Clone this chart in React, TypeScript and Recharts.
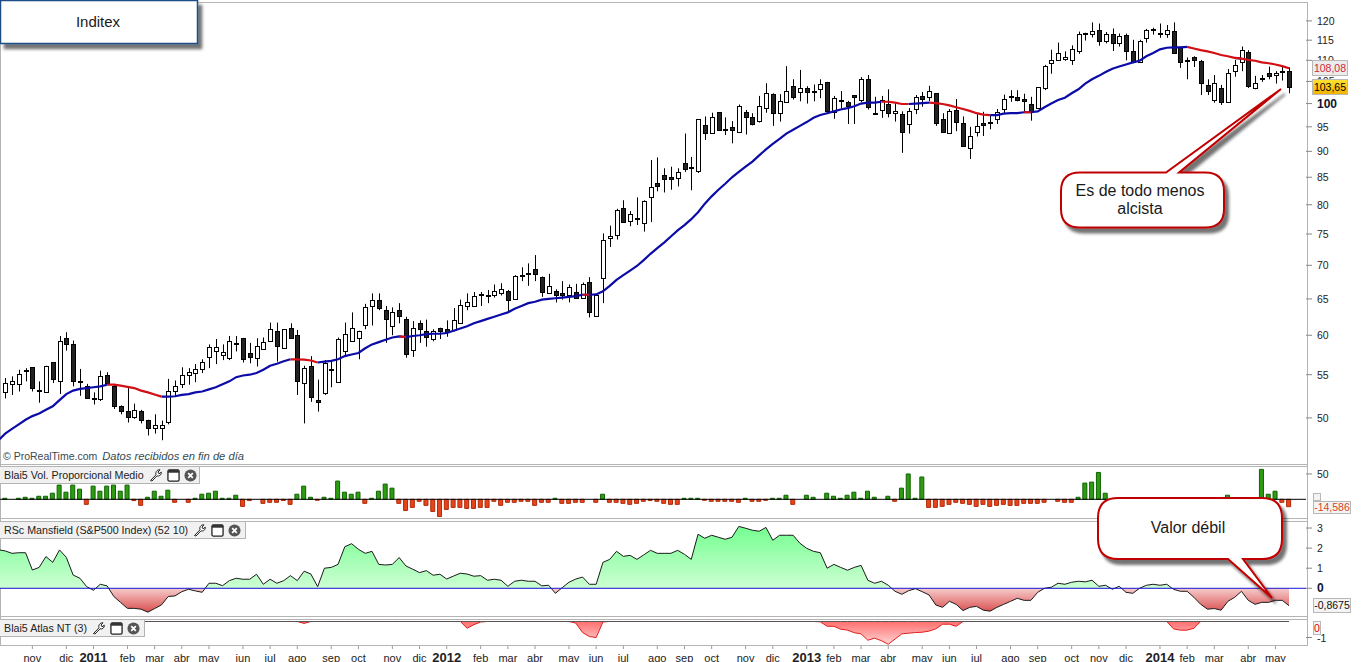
// App.tsx - Inditex weekly candles with volume, Mansfield RS and Atlas panels
import React from 'react';
import {
  ComposedChart, Bar, Line, Area, XAxis, YAxis, ReferenceLine, Cell,
} from 'recharts';

const opens = [
  52.9,53.9,53.9,55.6,55.9,53.2,52.9,56.5,54.2,59.7,
  58.8,54.3,53.6,52.3,52.1,55.0,53.6,51.3,50.8,50.1,
  50.8,49.8,48.9,48.9,49.6,53.1,53.9,55.0,55.2,55.7,
  57.2,57.9,57.5,57.1,59.0,59.6,57.7,57.1,58.2,59.2,
  60.5,58.3,60.9,60.0,54.0,56.1,52.0,52.8,55.7,54.1,
  57.9,59.3,59.7,61.4,64.0,64.9,63.4,61.2,63.5,62.2,
  58.1,61.6,60.6,59.5,61.0,60.8,60.7,61.7,64.0,64.0,
  65.7,65.5,65.5,65.9,66.2,65.0,68.5,68.8,69.4,68.2,
  65.8,66.2,65.9,65.5,66.0,65.1,67.4,62.6,68.0,74.3,
  74.8,79.5,77.2,77.7,76.9,81.3,83.9,85.4,85.1,84.8,
  87.7,86.9,86.2,95.3,93.8,98.1,94.6,94.9,93.9,98.2,
  97.0,96.3,99.1,102.1,97.9,100.3,103.9,102.6,103.4,102.7,
  103.2,104.9,98.1,100.9,100.3,101.9,100.7,105.5,98.0,98.6,
  100.0,97.9,97.7,95.5,98.9,101.7,101.5,102.3,96.6,93.7,
  98.6,95.7,90.7,93.9,95.7,96.1,96.6,98.9,101.6,101.5,
  101.1,99.9,99.1,103.4,109.3,110.2,110.3,110.2,112.4,116.8,
  116.6,117.6,114.9,116.7,114.4,116.4,112.2,109.7,115.5,117.9,
  116.9,116.7,117.4,113.4,109.9,110.8,109.8,104.2,100.8,103.4,
  100.4,107.4,109.6,112.0,103.4,105.9,106.9,106.4,107.3,107.5,
];
const closes = [
  54.0,54.2,55.1,55.4,53.4,53.0,56.1,54.5,59.3,58.8,
  54.3,54.2,52.3,52.2,54.8,54.0,51.3,50.8,50.1,50.9,
  49.8,48.9,49.2,49.2,53.1,53.7,55.0,55.3,55.7,56.6,
  58.4,58.4,57.8,59.2,58.9,56.9,57.2,58.6,59.1,60.8,
  58.6,60.8,59.7,54.2,55.8,52.4,51.8,56.4,55.6,59.5,
  60.2,61.0,60.6,63.8,64.9,63.7,62.2,63.2,62.6,57.6,
  61.0,60.8,59.8,60.6,60.6,60.4,62.0,64.2,64.5,65.4,
  65.5,65.4,66.2,66.4,64.8,68.3,68.4,68.6,68.7,66.0,
  66.9,65.5,65.5,66.7,65.2,67.2,63.2,65.6,74.0,74.7,
  79.1,77.1,78.4,77.6,80.7,83.2,83.3,84.6,84.6,85.9,
  86.5,86.8,96.6,93.8,97.0,94.4,94.4,94.4,99.4,97.0,
  95.6,99.4,102.3,97.9,100.5,102.7,101.4,103.5,102.6,102.6,
  104.4,98.3,101.2,100.6,99.4,101.5,105.5,99.3,97.9,100.9,
  98.0,98.4,93.9,98.3,101.5,101.1,102.7,95.9,93.9,98.3,
  96.0,91.1,93.1,95.1,95.3,96.0,98.1,101.0,101.4,100.9,
  100.5,98.2,103.7,108.7,110.2,111.9,110.8,112.7,116.7,116.7,
  117.4,114.9,116.6,114.2,116.0,112.3,109.7,114.9,117.5,117.6,
  116.8,117.5,111.9,109.6,110.2,110.0,104.7,102.9,104.6,100.4,
  106.9,108.9,112.5,104.0,104.7,105.7,106.3,106.9,107.5,103.65,
];
const highs = [
  54.6,54.8,55.6,55.8,55.9,54.2,56.1,56.5,59.9,60.4,
  59.3,55.7,53.9,52.9,55.5,55.3,53.9,51.4,53.4,51.6,
  50.9,49.8,50.4,49.7,54.5,54.3,55.9,55.8,56.3,56.9,
  58.8,59.5,58.8,59.9,59.9,59.6,59.0,59.6,59.7,61.7,
  61.7,60.8,61.6,60.7,56.1,57.3,54.4,56.8,56.8,59.7,
  61.7,63.1,60.6,64.3,65.8,65.8,64.0,63.8,64.4,62.5,
  61.9,62.0,62.1,60.8,61.0,62.0,63.7,64.9,65.8,66.0,
  66.0,66.3,67.1,67.3,66.3,68.5,69.7,70.3,71.6,68.3,
  68.7,66.4,67.6,67.1,67.2,67.4,68.2,65.6,75.1,76.4,
  79.3,80.8,78.9,81.3,80.8,88.3,88.8,86.7,87.0,86.7,
  93.6,88.9,96.6,97.2,98.0,98.1,97.0,96.2,99.8,98.6,
  97.9,101.7,104.6,102.3,102.1,108.6,105.5,107.7,103.9,104.3,
  105.5,104.9,101.7,102.8,100.6,101.9,106.0,106.5,101.5,101.7,
  103.2,100.3,98.3,99.0,101.9,102.6,104.0,102.3,97.9,98.8,
  101.0,97.2,95.0,97.7,98.2,97.3,98.8,102.0,103.0,103.0,
  102.2,101.5,103.7,108.9,112.6,114.4,112.2,113.7,117.2,116.9,
  119.6,119.3,117.1,118.0,116.7,116.7,115.1,115.1,117.9,118.2,
  119.3,118.9,119.6,113.4,110.7,111.0,110.1,105.5,106.5,104.2,
  107.9,110.1,113.4,112.5,106.3,106.5,108.5,107.4,108.8,108.3,
];
const lows = [
  52.2,52.6,53.0,54.2,53.0,51.7,52.9,54.0,52.7,58.0,
  53.6,52.5,52.3,51.5,51.9,53.9,51.0,50.4,49.5,49.9,
  49.4,48.1,48.3,47.6,49.3,52.4,53.4,53.8,54.1,55.2,
  55.8,56.3,56.8,56.8,57.9,56.5,56.4,56.0,58.2,59.2,
  56.6,58.3,59.7,52.6,49.4,51.8,50.7,52.6,53.5,54.0,
  57.3,59.2,56.9,60.8,61.3,63.4,59.0,60.0,61.6,57.1,
  57.2,59.0,58.5,59.2,59.5,59.8,60.5,61.5,63.4,63.9,
  64.0,64.4,65.2,65.5,63.2,64.9,67.6,66.9,67.6,65.3,
  65.7,64.5,64.9,64.5,65.1,65.1,62.4,62.5,64.4,72.9,
  74.1,77.0,76.3,76.5,75.4,77.0,82.4,82.2,82.7,83.3,
  86.0,82.6,85.8,92.3,93.6,94.2,93.3,91.6,93.7,93.4,
  95.3,95.9,98.0,95.2,96.1,100.3,100.9,100.5,100.0,100.5,
  101.2,97.7,96.7,98.9,95.6,95.6,100.3,98.7,97.7,96.9,
  97.0,96.1,89.7,93.6,97.7,99.3,100.5,95.2,93.7,93.6,
  94.1,90.9,88.5,93.0,93.1,94.5,95.6,97.9,100.4,100.5,
  98.2,96.3,99.0,103.0,106.8,110.0,109.9,108.9,111.6,114.9,
  115.7,113.6,114.2,112.3,113.4,110.0,109.3,109.4,114.4,116.4,
  115.6,115.6,111.7,108.2,105.5,108.4,101.9,101.9,100.2,99.7,
  100.2,106.1,107.4,103.5,103.2,104.9,105.5,104.5,105.2,102.3,
];
// moving average, read off the line
const maLead = 47.6;
const ma = [
  48.3,48.8,49.3,49.8,50.2,50.5,50.9,51.3,52.0,52.7,
  53.1,53.3,53.4,53.5,53.6,53.8,53.8,53.7,53.55,53.4,
  53.1,52.9,52.65,52.4,52.4,52.45,52.6,52.7,52.9,53.0,
  53.25,53.5,53.85,54.2,54.7,54.9,55.0,55.2,55.6,56.1,
  56.35,56.65,56.9,56.9,56.85,56.75,56.5,56.6,56.7,56.9,
  57.3,57.5,57.7,58.3,58.8,59.1,59.4,59.7,59.85,59.75,
  59.9,60.0,60.15,60.2,60.2,60.3,60.6,60.9,61.2,61.6,
  61.9,62.2,62.5,62.8,63.1,63.6,64.0,64.4,64.6,64.9,
  65.0,65.1,65.2,65.3,65.4,65.6,65.6,65.65,66.1,66.9,
  67.8,68.5,69.2,69.9,70.8,71.8,72.7,73.6,74.6,75.6,
  76.5,77.5,78.7,80.2,81.5,82.7,83.8,85.0,86.0,87.0,
  88.0,89.2,90.4,91.5,92.5,93.6,94.4,95.2,96.0,96.9,
  97.5,97.9,98.3,98.7,99.0,99.4,100.0,100.2,100.2,100.4,
  100.4,100.2,99.9,99.9,100.0,100.1,100.2,100.1,99.9,99.6,
  99.2,98.8,98.4,97.9,97.6,97.5,97.5,97.8,97.9,97.9,
  98.1,98.1,98.3,99.2,100.0,100.8,101.3,102.3,103.2,104.5,
  105.5,106.3,107.2,108.0,108.5,109.0,109.5,109.9,111.0,111.8,
  112.7,113.1,113.2,113.2,113.3,112.9,112.5,112.2,111.8,111.3,
  111.0,110.6,110.4,110.1,109.9,109.5,109.3,109.0,108.6,108.08,
];
const maFalling = [[15,23],[42,46],[58,59],[85,86],[129,133],[136,145],[150,151],[174,181],[182,189]];

const volume = [
  2,0,2,4,2,6,6,12,28,14,
  28,20,-10,26,16,26,28,16,28,-2.5,
  -12,4,16,6,18,-6,0,-6,2,10,
  12,16,2,2,8,-14,-2.5,0,-8,-6,
  -6,-2.5,-10,10,26,4,-2,4,2,36,
  14,10,14,-8,2,16,30,22,-8,-22,
  -16,-4,-12,-24,-34,-20,-16,-16,-18,-18,
  -16,-16,-4,-12,-6,-6,-4,-4,-12,-6,
  -6,2,-8,-8,-6,-6,0,-6,10,-6,
  -6,-8,-10,-8,-4,-2.5,-4,-8,-10,-10,
  2,2,2,-2,-4,-4,-4,-4,-6,2,
  -4,-4,-2,2,2,8,-10,0,8,4,
  0,12,6,2,8,14,2,16,4,0,
  6,-4,22,50,2,44,-16,-16,-14,-10,
  -6,-8,-10,-14,-10,-14,-12,-10,-12,-12,
  -8,-8,-8,-6,0,-4,-6,-6,4,32,
  34,53,12,-4,-6,-5,-4,-6,-3,-5,
  -4,-6,-4,-5,-3,-4,-6,-4,-5,-3,
  8,-4,-3,-5,-4,59,10,16,-6,-14.586,
];
const mansfieldLead = 1.92;
const mansfield = [
  1.86,1.74,1.77,1.77,0.91,1.04,1.58,1.29,1.91,1.54,
  0.66,0.5,0.08,-0.1,0.2,0.12,-0.41,-0.71,-1.0,-1.0,
  -1.04,-1.19,-1.01,-0.83,-0.41,-0.38,-0.17,-0.05,-0.13,-0.2,
  0.25,0.25,0.13,0.38,0.5,0.45,0.45,0.7,0.2,0.45,
  0.25,0.38,0.63,0.38,0.85,0.71,0.08,1.0,1.04,1.19,
  2.07,2.22,1.94,1.74,1.84,1.19,1.16,1.19,1.53,1.11,
  0.95,0.78,0.88,0.65,0.7,0.46,0.61,0.75,0.71,0.6,
  0.63,0.4,0.45,0.4,0.1,0.35,0.4,0.35,0.35,0.12,
  0.15,-0.25,0.03,0.3,0.46,0.56,0.2,0.2,1.29,1.44,
  1.84,1.59,1.64,1.44,1.66,1.89,1.74,1.74,1.74,1.89,
  1.69,1.44,2.69,2.49,2.64,2.54,2.44,2.54,3.08,2.99,
  2.89,2.84,3.03,2.39,2.64,2.64,2.64,2.24,1.99,1.84,
  1.77,1.0,1.19,1.04,0.9,1.04,1.14,0.4,0.25,0.35,
  0.15,-0.15,-0.3,-0.12,-0.02,-0.17,-0.33,-0.83,-0.95,-0.65,
  -0.8,-1.11,-0.95,-0.9,-1.09,-1.14,-0.95,-0.8,-0.65,-0.5,
  -0.6,-0.6,-0.2,0,0.05,0.25,0.2,0.3,0.35,0.32,
  0.4,0.1,0.15,-0.05,0.1,-0.2,-0.25,0,0.15,0.2,
  0.15,0.2,-0.05,-0.15,-0.15,-0.45,-0.8,-1.04,-1.01,-1.09,
  -0.65,-0.45,-0.15,-0.6,-0.8,-0.7,-0.7,-0.6,-0.6,-0.8675,
];
const atlas = [
  0,0,0,0,0,0,0,0,0,0,
  0,0,0,0,0,0,0,0,0,0,
  0,0,0,0,0,0,0,0,0,0,
  0,0,0,0,0,0,0,0,0,0,
  0,0,0,0,-0.12,0,0,0,0,0,
  0,0,0,0,0,0,0,0,0,0,
  0,0,0,0,0,0,0,0,-0.42,-0.2,
  -0.03,0,0,0,0,0,0,0,0,0,
  0,0,0,0,-0.1,-0.69,-0.94,-1.0,-0.03,0,
  0,0,0,0,0,0,0,0,0,0,
  0,0,0,0,0,0,0,0,0,0,
  0,0,0,0,0,0,0,0,0,0,
  -0.02,-0.3,-0.3,-0.48,-0.54,-0.7,-0.77,-1.17,-1.04,-1.2,
  -1.42,-1.1,-0.77,-0.73,-0.69,-0.67,-0.6,-0.46,-0.17,-0.17,
  -0.3,0,0,0,0,0,0,0,0,0,
  0,0,0,0,0,0,0,0,0,0,
  0,0,0,0,0,0,0,0,0,0,
  0,0,-0.46,-0.54,-0.54,-0.42,0,0,0,0,
  0,0,0,0,0,0,0,0,0,0,
];

const priceTicks = [50,55,60,65,70,75,80,85,90,95,100,105,110,115,120];
const volumeTicks = [50];
const mansfieldTicks = [3,2,1,0];
const atlasTicks = [-1];
const monthWeeks = [4,9,13,18,22,26,30,35,39,43,48,52,57,61,65,70,74,78,83,87,91,96,100,104,109,113,118,122,126,130,135,139,143,148,152,157,161,165,170,174,178,183,187];
const monthLabels = ['nov','dic','2011','feb','mar','abr','may','jun','jul','ago','sep','oct','nov','dic','2012','feb','mar','abr','may','jun','jul','ago','sep','oct','nov','dic','2013','feb','mar','abr','may','jun','jul','ago','sep','oct','nov','dic','2014','feb','mar','abr','may'];

const FONT = '"Liberation Sans", Arial, sans-serif';
const GRID = '#b4b4b4';
const CHART_W = 1366;
const CHART_LEFT = -4.9;

const isFalling = (k: number) => maFalling.some(([a, b]) => k >= a && k <= b);
const isInsideFalling = (k: number) => maFalling.some(([a, b]) => k > a && k < b);

const rows = Array.from({ length: 193 }, (_, i) => {
  const k = i - 1;
  const lead = k < 0;
  const maValue = lead ? maLead : ma[k];
  return {
    week: k,
    open: opens[k],
    close: closes[k],
    high: highs[k],
    low: lows[k],
    maBlue: isInsideFalling(k) ? null : maValue ?? null,
    maRed: isFalling(k) ? maValue : null,
    volume: volume[k] ?? null,
    mansfield: lead ? mansfieldLead : mansfield[k] ?? null,
    atlas: lead ? 0 : atlas[k] ?? null,
    atlasBase: k <= 189 ? 0 : null,
  };
});

const Candle = (props: any) => {
  const { x, y, width, height, payload } = props;
  if (payload?.high == null) return null;
  const { open, close, high, low } = payload;
  const cx = Math.round(x + width / 2) + 0.5;
  const at = (v: number) => y + (height * Math.log(high / v)) / Math.log(high / low);
  const top = Math.round(at(Math.max(open, close))) + 0.5;
  const bottom = Math.round(at(Math.min(open, close))) + 0.5;
  return (
    <g>
      <line x1={cx} x2={cx} y1={y} y2={y + height} stroke="#000" strokeWidth={1} />
      <rect
        x={cx - 2}
        y={top}
        width={4}
        height={Math.max(bottom - top, 1)}
        fill={close >= open ? '#fff' : '#222'}
        stroke="#000"
        strokeWidth={1}
      />
    </g>
  );
};

const AxisTick = (props: any) => {
  const { x, y, payload } = props;
  const bold = payload.value === 100 || payload.value === 0;
  return (
    <text x={x + 3} y={y + 4} fontFamily={FONT} fontSize={bold ? 12 : 10.5} fontWeight={bold ? 700 : 400} fill={bold ? '#0c1430' : '#222'}>
      {payload.value}
    </text>
  );
};

const MonthTick = (props: any) => {
  const { x, y, payload } = props;
  const label = monthLabels[monthWeeks.indexOf(payload.value)];
  const isYear = label.length === 4;
  return (
    <text x={x} y={y + 11} textAnchor="middle" fontFamily={FONT} fontSize={isYear ? 13 : 11} fontWeight={isYear ? 700 : 400} fill="#222">
      {label}
    </text>
  );
};

const iconStyle = { display: 'block', flexShrink: 0 };
const Wrench = () => (
  <svg width="14" height="14" viewBox="0 0 14 14" style={iconStyle}>
    <path d="M1.5 12.5 L7 6.8 C6.2 4.6 7.6 1.6 11 1.8 L9 4 L10 5.8 L12.3 4.2 C12.6 7 10 8.6 8 7.8 L3 13 Z" fill="#fff" stroke="#222" strokeWidth="1" />
  </svg>
);
const WindowIcon = () => (
  <svg width="13" height="13" viewBox="0 0 14 14" style={iconStyle}>
    <rect x="1" y="1" width="12" height="12" rx="1.5" fill="#fff" stroke="#222" strokeWidth="1.4" />
    <rect x="1" y="1" width="12" height="3" fill="#333" />
  </svg>
);
const CloseIcon = () => (
  <svg width="13" height="13" viewBox="0 0 14 14" style={iconStyle}>
    <circle cx="7" cy="7" r="6.5" fill="#555" />
    <path d="M4.5 4.5 L9.5 9.5 M9.5 4.5 L4.5 9.5" stroke="#fff" strokeWidth="1.9" />
  </svg>
);

const PanelTitle = ({ top, width, text }: { top: number; width: number; text: string }) => (
  <div
    style={{
      position: 'absolute', left: 0, top, width, height: 18, boxSizing: 'border-box',
      background: '#f1f1f1', border: `1px solid ${GRID}`, borderLeft: 'none',
      display: 'flex', alignItems: 'center', paddingLeft: 4, gap: 4,
      fontFamily: FONT, fontSize: 10.7, color: '#222', whiteSpace: 'nowrap',
    }}
  >
    <span style={{ marginRight: 1 }}>{text}</span>
    <Wrench />
    <WindowIcon />
    <CloseIcon />
  </div>
);

const ValueBox = ({ left, top, width, height, color, background, text }: any) => (
  <div
    style={{
      position: 'absolute', left, top, width, height, boxSizing: 'border-box',
      background, border: '1px solid #b8b8b8', color, textAlign: 'center',
      fontFamily: FONT, fontSize: 10.5, lineHeight: `${height - 2}px`, overflow: 'hidden',
    }}
  >
    {text}
  </div>
);

const HLine = ({ top }: { top: number }) => (
  <div style={{ position: 'absolute', left: 0, top, width: 1307, height: 1, background: GRID }} />
);

const hiddenAxisLine = false;
const tickLine = { stroke: '#888' };

const App = () => {
  return (
    <div style={{ position: 'absolute', left: 0, top: 0, width: 1362, height: 662, overflow: 'hidden', background: '#fff' }}>
      <HLine top={2} />
      <HLine top={464} />
      <HLine top={466} />
      <HLine top={518} />
      <HLine top={521} />
      <HLine top={616} />
      <HLine top={619} />
      <HLine top={645} />
      <div style={{ position: 'absolute', left: 0, top: 0, width: 1, height: 646, background: GRID }} />
      <div style={{ position: 'absolute', left: 1306.5, top: 2, width: 1.5, height: 644, background: GRID }} />

      {/* price */}
      <div style={{ position: 'absolute', left: CHART_LEFT, top: 2 }}>
        <ComposedChart width={CHART_W} height={458} data={rows} margin={{ top: 0, right: 0, bottom: 0, left: 0 }} barCategoryGap={0}>
          <XAxis dataKey="week" scale="band" hide />
          <YAxis
            orientation="right" width={55} scale="log" domain={[45.57, 125.1]} allowDataOverflow
            ticks={priceTicks} interval={0} tick={<AxisTick />} tickSize={6} axisLine={hiddenAxisLine} tickLine={tickLine}
          />
          <Bar
            dataKey={(d: any) => (d.high == null ? null : [d.low, d.high])}
            shape={<Candle />} isAnimationActive={false}
          />
          <Line dataKey="maBlue" stroke="#0b0ba8" strokeWidth={2.2} dot={false} isAnimationActive={false} />
          <Line dataKey="maRed" stroke="#d20f14" strokeWidth={2.2} dot={false} isAnimationActive={false} />
        </ComposedChart>
      </div>

      <div style={{ position: 'absolute', left: 3, top: 450, fontFamily: FONT, fontSize: 10.5, color: '#3c4650', whiteSpace: 'nowrap' }}>
        © ProRealTime.com <i style={{ fontSize: 11.2, marginLeft: 2, color: '#334b52' }}>Datos recibidos en fin de día</i>
      </div>

      {/* volume */}
      <div style={{ position: 'absolute', left: CHART_LEFT, top: 466 }}>
        <ComposedChart width={CHART_W} height={52} data={rows} margin={{ top: 0, right: 0, bottom: 0, left: 0 }}>
          <XAxis dataKey="week" scale="band" hide />
          <YAxis
            orientation="right" width={55} domain={[-36.9, 65.7]} allowDataOverflow
            ticks={volumeTicks} interval={0} tick={<AxisTick />} tickSize={6} axisLine={hiddenAxisLine} tickLine={tickLine}
          />
          <Bar dataKey="volume" barSize={4} isAnimationActive={false}>
            {rows.map((r) => (
              <Cell
                key={r.week}
                fill={(r.volume ?? 0) >= 0 ? '#2f9b12' : '#e8441b'}
                stroke={(r.volume ?? 0) >= 0 ? '#0e6300' : '#b02a08'}
              />
            ))}
          </Bar>
          <ReferenceLine y={0} stroke="#000" strokeWidth={1} />
        </ComposedChart>
      </div>

      {/* mansfield */}
      <div style={{ position: 'absolute', left: CHART_LEFT, top: 521 }}>
        <ComposedChart width={CHART_W} height={95} data={rows} margin={{ top: 0, right: 0, bottom: 0, left: 0 }}>
          <defs>
            <linearGradient id="rsFill" gradientUnits="userSpaceOnUse" x1="0" y1="0" x2="0" y2="95">
              <stop offset="0" stopColor="#6cff8a" />
              <stop offset="0.708" stopColor="#cdfed3" />
              <stop offset="0.708" stopColor="#f6cccc" />
              <stop offset="1" stopColor="#d63a3a" />
            </linearGradient>
          </defs>
          <XAxis dataKey="week" scale="band" hide />
          <YAxis
            orientation="right" width={55} domain={[-1.38, 3.35]} allowDataOverflow
            ticks={mansfieldTicks} interval={0} tick={<AxisTick />} tickSize={6} axisLine={hiddenAxisLine} tickLine={tickLine}
          />
          <Area dataKey="mansfield" type="linear" baseValue={0} fill="url(#rsFill)" fillOpacity={1} stroke="#1a1a1a" strokeWidth={1} dot={false} isAnimationActive={false} />
          <ReferenceLine y={0} stroke="#1414d8" strokeWidth={1} />
        </ComposedChart>
      </div>

      {/* atlas + time axis */}
      <div style={{ position: 'absolute', left: CHART_LEFT, top: 619 }}>
        <ComposedChart width={CHART_W} height={43} data={rows} margin={{ top: 0, right: 0, bottom: 0, left: 0 }}>
          <defs>
            <linearGradient id="atlasFill" x1="0" y1="0" x2="0" y2="1">
              <stop offset="0" stopColor="#ff6f6f" />
              <stop offset="1" stopColor="#ffd4d4" />
            </linearGradient>
          </defs>
          <XAxis
            dataKey="week" scale="band" height={16} ticks={monthWeeks} interval={0} tick={<MonthTick />}
            tickSize={3} axisLine={false} tickLine={{ stroke: '#999' }}
          />
          <YAxis
            orientation="right" width={55} domain={[-1.53, 0.156]} allowDataOverflow
            ticks={atlasTicks} interval={0} tick={<AxisTick />} tickSize={6} axisLine={hiddenAxisLine} tickLine={tickLine}
          />
          <Area dataKey="atlas" type="linear" baseValue={0} fill="url(#atlasFill)" fillOpacity={1} stroke="#e01e1e" strokeWidth={1} dot={false} isAnimationActive={false} />
          <Line dataKey="atlasBase" stroke="#555" strokeWidth={1} dot={false} isAnimationActive={false} />
        </ComposedChart>
      </div>

      <PanelTitle top={466} width={200} text="Blai5 Vol. Proporcional Medio" />
      <PanelTitle top={521} width={246} text="RSc Mansfield (S&P500 Index) (52 10)" />
      <PanelTitle top={619} width={145} text="Blai5 Atlas NT (3)" />

      <ValueBox left={1312} top={60} width={36} height={16} color="#d0283c" background="#ececec" text="108,08" />
      <ValueBox left={1312} top={79} width={36} height={16} color="#000" background="linear-gradient(#ffe030,#f2b400)" text="103,65" />
      <ValueBox left={1313} top={493} width={8} height={8} color="#222" background="#f4f4f4" text="" />
      <ValueBox left={1313} top={501} width={38} height={13} color="#d8431c" background="#f4f4f4" text="-14,586" />
      <ValueBox left={1313} top={598} width={38} height={15} color="#111" background="#f4f4f4" text="-0,8675" />
      <ValueBox left={1313} top={621} width={8} height={14} color="#e00000" background="#f4f4f4" text="0" />

      {/* annotations */}
      <svg width={1362} height={662} style={{ position: 'absolute', left: 0, top: 0, pointerEvents: 'none' }}>
        <defs>
          <filter id="shade" x="-10%" y="-10%" width="125%" height="130%">
            <feDropShadow dx="4" dy="5" stdDeviation="1.8" floodColor="#000" floodOpacity="0.55" />
          </filter>
        </defs>
        <rect x={0.5} y={0.5} width={197} height={43} fill="#fff" stroke="#1f4e85" strokeWidth={1.5} filter="url(#shade)" />
        <text x={98} y={27} textAnchor="middle" fontFamily={FONT} fontSize={15} fill="#1a1a1a">Inditex</text>
        <path
          d="M1080 172.5 H1166 L1281 89 L1179 172.5 H1205 Q1224 172.5 1224 191 V209 Q1224 227.5 1205 227.5 H1080 Q1061 227.5 1061 209 V191 Q1061 172.5 1080 172.5 Z"
          fill="#fff" stroke="#c00000" strokeWidth={2} filter="url(#shade)"
        />
        <text x={1140} y={196} textAnchor="middle" fontFamily={FONT} fontSize={16} fill="#1a1a1a">Es de todo menos</text>
        <text x={1140} y={214} textAnchor="middle" fontFamily={FONT} fontSize={16} fill="#1a1a1a">alcista</text>
        <path
          d="M1118 498 H1262 Q1282 498 1282 518 V539 Q1282 559 1262 559 H1243 L1272 598 L1228 559 H1118 Q1098 559 1098 539 V518 Q1098 498 1118 498 Z"
          fill="#fff" stroke="#c00000" strokeWidth={2} filter="url(#shade)"
        />
        <text x={1188} y={533} textAnchor="middle" fontFamily={FONT} fontSize={16} fill="#1a1a1a">Valor débil</text>
      </svg>
    </div>
  );
};

export default App;
